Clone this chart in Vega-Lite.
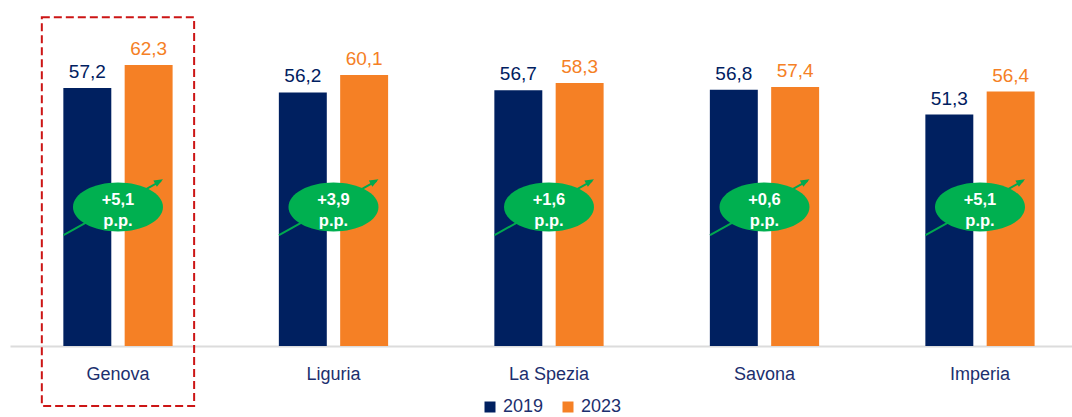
{
  "$schema": "https://vega.github.io/schema/vega-lite/v6.json",
  "width": 1062,
  "height": 346,
  "autosize": {"type": "none"},
  "padding": {"left": 10, "top": 0, "right": 0, "bottom": 71},
  "background": "white",
  "config": {
    "view": {"stroke": null},
    "locale": {"number": {"decimal": ",", "thousands": ".", "grouping": [3], "currency": ["", " €"]}},
    "font": "Liberation Sans, Arial, sans-serif"
  },
  "datasets": {
    "vals": [
      {"city": "Genova", "year": "2019", "value": 57.2},
      {"city": "Genova", "year": "2023", "value": 62.3},
      {"city": "Liguria", "year": "2019", "value": 56.2},
      {"city": "Liguria", "year": "2023", "value": 60.1},
      {"city": "La Spezia", "year": "2019", "value": 56.7},
      {"city": "La Spezia", "year": "2023", "value": 58.3},
      {"city": "Savona", "year": "2019", "value": 56.8},
      {"city": "Savona", "year": "2023", "value": 57.4},
      {"city": "Imperia", "year": "2019", "value": 51.3},
      {"city": "Imperia", "year": "2023", "value": 56.4}
    ],
    "diffs": [
      {"city": "Genova", "diff": 5.1},
      {"city": "Liguria", "diff": 3.9},
      {"city": "La Spezia", "diff": 1.6},
      {"city": "Savona", "diff": 0.6},
      {"city": "Imperia", "diff": 5.1}
    ],
    "highlight": [{"city": "Genova"}]
  },
  "encoding": {
    "x": {
      "field": "city",
      "type": "nominal",
      "sort": ["Genova", "Liguria", "La Spezia", "Savona", "Imperia"],
      "scale": {"domain": ["Genova", "Liguria", "La Spezia", "Savona", "Imperia"], "paddingInner": 0.493, "paddingOuter": 0.2105, "align": 0.588},
      "axis": {
        "title": null,
        "ticks": false,
        "tickSize": 0,
        "labelAngle": 0,
        "labelPadding": 19,
        "labelFontSize": 18,
        "labelColor": "#1c2f6e",
        "domainColor": "#dcdcdc",
        "domainWidth": 2,
        "grid": false
      }
    }
  },
  "layer": [
    {
      "data": {"name": "vals"},
      "mark": {"type": "bar"},
      "encoding": {
        "xOffset": {"field": "year", "type": "nominal", "scale": {"paddingInner": 0.218, "paddingOuter": 0}},
        "y": {"field": "value", "type": "quantitative", "scale": {"domain": [0, 76.7], "nice": false, "zero": true}, "axis": null},
        "color": {
          "field": "year",
          "type": "nominal",
          "scale": {"domain": ["2019", "2023"], "range": ["#002060", "#f58025"]},
          "legend": {
            "title": null,
            "orient": "none",
            "direction": "horizontal",
            "legendX": 471,
            "legendY": 398,
            "padding": 0,
            "symbolType": "square",
            "symbolSize": 121,
            "symbolStrokeWidth": 0,
            "labelFontSize": 18,
            "labelColor": "#1c2f6e",
            "labelOffset": 4,
            "columnPadding": 15
          }
        }
      }
    },
    {
      "data": {"name": "vals"},
      "mark": {"type": "text", "baseline": "alphabetic", "dy": -10, "fontSize": 19},
      "encoding": {
        "xOffset": {"field": "year", "type": "nominal", "scale": {"paddingInner": 0.218, "paddingOuter": 0}},
        "y": {"field": "value", "type": "quantitative"},
        "text": {"field": "value", "type": "quantitative", "format": ".1f"},
        "color": {"field": "year", "type": "nominal"}
      }
    },
    {
      "data": {"name": "highlight"},
      "mark": {"type": "bar", "width": 152.3, "fill": null, "fillOpacity": 0, "stroke": "#cc1515", "strokeWidth": 2, "strokeDash": [8, 4]},
      "encoding": {
        "y": {"datum": 72.87},
        "y2": {"datum": -13.3}
      }
    },
    {
      "data": {"name": "diffs"},
      "mark": {"type": "rule", "color": "#00a94f", "strokeWidth": 2, "xOffset": -54.5, "x2Offset": 43},
      "encoding": {
        "x": {"field": "city", "type": "nominal", "bandPosition": 0.5},
        "x2": {"field": "city", "bandPosition": 0.5},
        "y": {"datum": 24.6},
        "y2": {"datum": 36.6}
      }
    },
    {
      "data": {"name": "diffs"},
      "mark": {"type": "point", "shape": "M0,0 L-1,-0.4 L-1,0.4 Z", "size": 324, "filled": true, "opacity": 1, "color": "#00a94f", "angle": -29.2, "xOffset": 45},
      "encoding": {
        "y": {"datum": 36.95}
      }
    },
    {
      "data": {"name": "diffs"},
      "mark": {"type": "point", "shape": "M-1,0 A1,0.544 0 1,1 1,0 A1,0.544 0 1,1 -1,0 Z", "size": 8100, "filled": true, "opacity": 1, "color": "#00b050", "strokeWidth": 0},
      "encoding": {
        "y": {"datum": 30.81}
      }
    },
    {
      "data": {"name": "diffs"},
      "mark": {"type": "text", "baseline": "alphabetic", "fontSize": 16.5, "fontWeight": "bold", "color": "white"},
      "encoding": {
        "y": {"datum": 31.26},
        "text": {"field": "diff", "type": "quantitative", "format": "+.1f"}
      }
    },
    {
      "data": {"name": "diffs"},
      "mark": {"type": "text", "text": "p.p.", "baseline": "alphabetic", "fontSize": 16.5, "fontWeight": "bold", "color": "white"},
      "encoding": {
        "y": {"datum": 26.6}
      }
    }
  ]
}
